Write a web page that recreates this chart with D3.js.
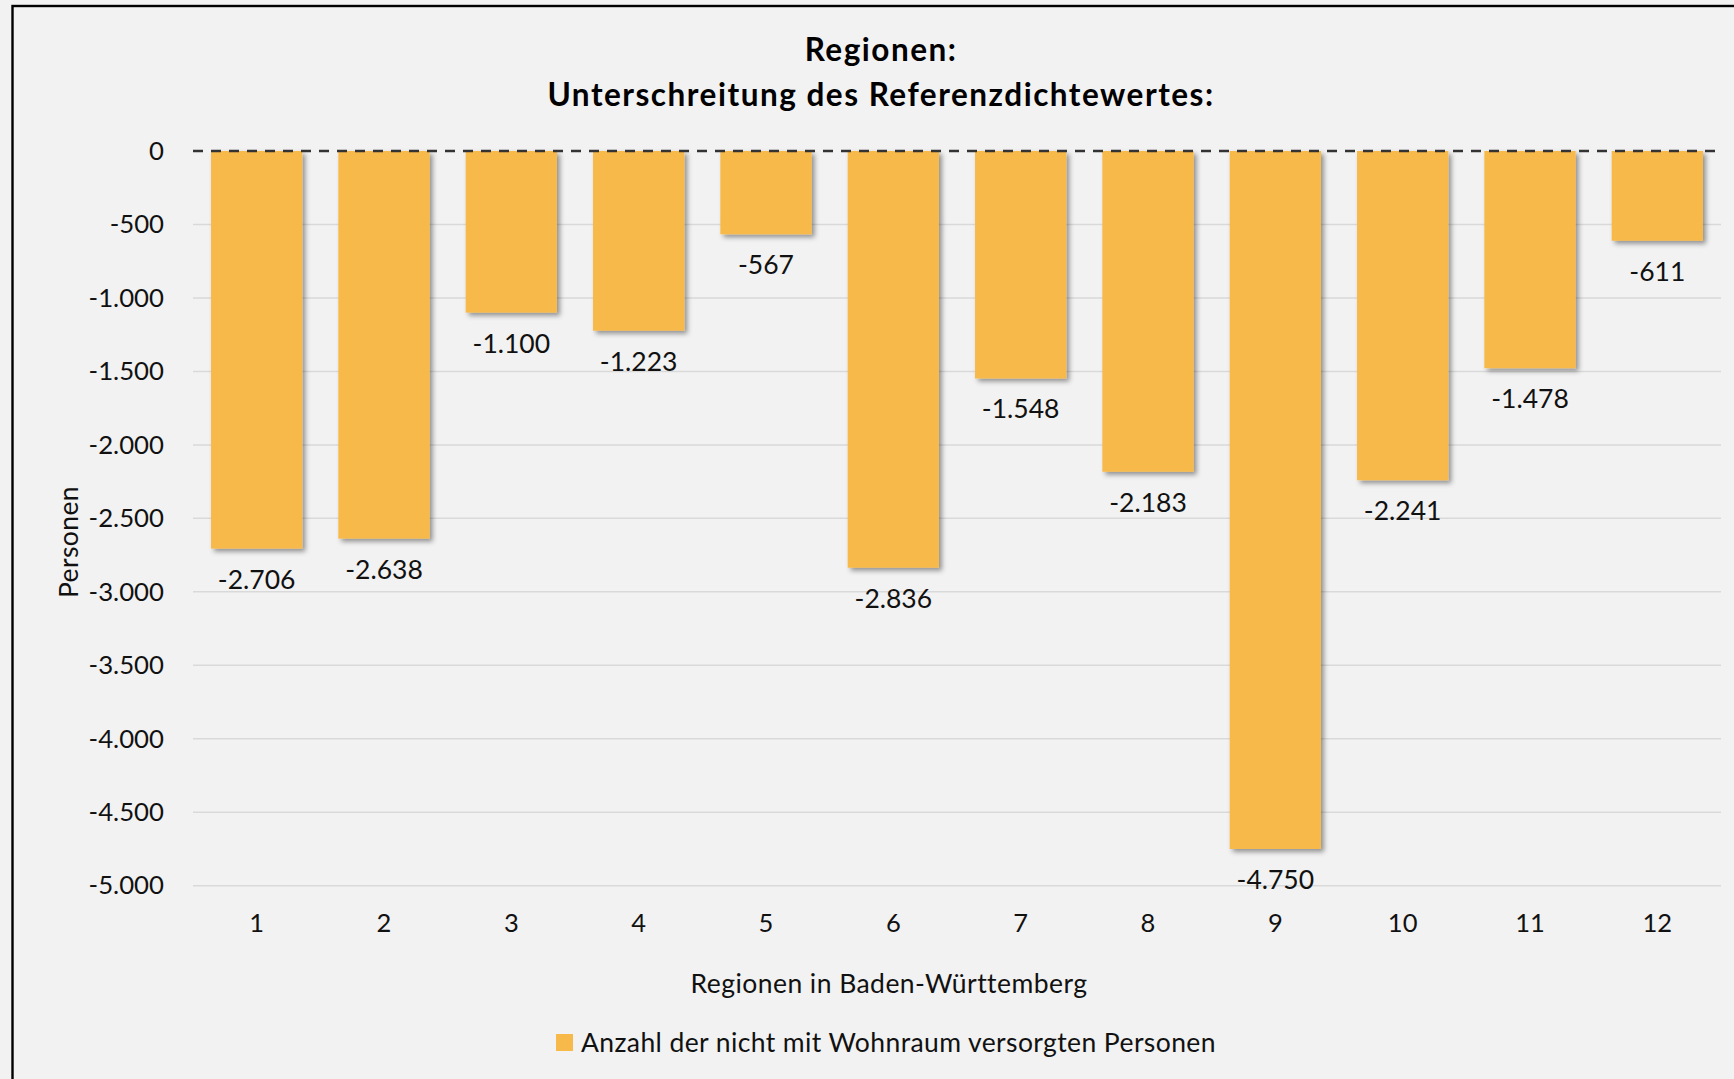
<!DOCTYPE html>
<html lang="de">
<head>
<meta charset="UTF-8">
<script src="https://d3js.org/d3.v7.min.js"></script>
<style>
  html, body { margin: 0; padding: 0; background: #f2f2f2; overflow: hidden; }
  svg { display: block; font-family: Lato, "Open Sans", sans-serif; }
  .grid line { stroke: #d9d9d9; stroke-width: 1.5; }
  .tick-label, .value-label, .cat-label, .axis-title, .legend-text { fill: #111; }
</style>
<title>Regionen</title>
</head>
<body>
<div id="chart"></div>
<script>
// data
const regions = ["1", "2", "3", "4", "5", "6", "7", "8", "9", "10", "11", "12"];
const persons = [-2706, -2638, -1100, -1223, -567, -2836, -1548, -2183, -4750, -2241, -1478, -611];
const yTicks = [0, -500, -1000, -1500, -2000, -2500, -3000, -3500, -4000, -4500, -5000];
const titleLines = ["Regionen:", "Unterschreitung des Referenzdichtewertes:"];
const seriesName = "Anzahl der nicht mit Wohnraum versorgten Personen";

const width = 1734, height = 1079;
const plot = { left: 193, right: 1721, top: 151, bottom: 885.7 };

const de = d3.formatLocale({ decimal: ",", thousands: ".", grouping: [3], currency: ["", " €"], minus: "-" });
const fmt = de.format(",d");

const svg = d3.select("#chart").append("svg")
    .attr("width", width)
    .attr("height", height);

// drop shadow for the bars
const defs = svg.append("defs");
const shadow = defs.append("filter").attr("id", "shadow")
    .attr("x", "-20%").attr("y", "-20%").attr("width", "150%").attr("height", "150%");
shadow.append("feDropShadow")
    .attr("dx", 3).attr("dy", 3).attr("stdDeviation", 2.5)
    .attr("flood-color", "#000").attr("flood-opacity", 0.4);

// frame (runs off the right and bottom edge)
svg.append("rect")
    .attr("x", 12.5).attr("y", 6)
    .attr("width", 1900).attr("height", 1200)
    .attr("fill", "#f2f2f2")
    .attr("stroke", "#000").attr("stroke-width", 2.4);

const x = d3.scaleBand()
    .domain(regions)
    .range([plot.left, plot.right])
    .paddingInner(0.283)
    .paddingOuter(0.1415);

const y = d3.scaleLinear()
    .domain([-5000, 0])
    .range([plot.bottom, plot.top]);

// title
svg.append("g").selectAll("text")
    .data(titleLines)
    .enter().append("text")
    .attr("x", 881)
    .attr("y", (d, i) => 61 + i * 45)
    .attr("text-anchor", "middle")
    .attr("font-size", 31.5)
    .attr("letter-spacing", 1.5)
    .attr("font-weight", "bold")
    .attr("fill", "#000")
    .text(d => d);

// gridlines (not at zero)
svg.append("g").attr("class", "grid")
    .selectAll("line")
    .data(yTicks.filter(d => d !== 0))
    .enter().append("line")
    .attr("x1", plot.left).attr("x2", plot.right)
    .attr("y1", d => y(d)).attr("y2", d => y(d));

// y tick labels
const yAxis = d3.axisLeft(y).tickValues(yTicks).tickFormat(fmt).tickSize(0).tickPadding(0);
const yg = svg.append("g")
    .attr("transform", "translate(164,0)")
    .call(yAxis);
yg.select(".domain").remove();
yg.selectAll("text")
    .attr("class", "tick-label")
    .attr("font-size", 25.75)
    .attr("font-family", "Lato, 'Open Sans', sans-serif")
    .attr("fill", "#111");

// bars
svg.append("g").selectAll("rect")
    .data(persons)
    .enter().append("rect")
    .attr("x", (d, i) => x(regions[i]))
    .attr("y", y(0))
    .attr("width", x.bandwidth())
    .attr("height", d => y(d) - y(0))
    .attr("fill", "#f8b94b")
    .attr("filter", "url(#shadow)");

// zero line, dashed
svg.append("line")
    .attr("x1", plot.left).attr("x2", plot.right)
    .attr("y1", y(0)).attr("y2", y(0))
    .attr("stroke", "#333")
    .attr("stroke-width", 2.5)
    .attr("stroke-dasharray", "10,8");

// value labels under the bars
svg.append("g").selectAll("text")
    .data(persons)
    .enter().append("text")
    .attr("class", "value-label")
    .attr("x", (d, i) => x(regions[i]) + x.bandwidth() / 2)
    .attr("y", d => y(d) + 40)
    .attr("text-anchor", "middle")
    .attr("font-size", 26.5)
    .text(d => fmt(d));

// category labels
svg.append("g").selectAll("text")
    .data(regions)
    .enter().append("text")
    .attr("class", "cat-label")
    .attr("x", d => x(d) + x.bandwidth() / 2)
    .attr("y", 932)
    .attr("text-anchor", "middle")
    .attr("font-size", 25.5)
    .text(d => d);

// axis titles
svg.append("text")
    .attr("class", "axis-title")
    .attr("x", 889).attr("y", 993)
    .attr("text-anchor", "middle")
    .attr("font-size", 26.5)
    .attr("letter-spacing", 0.45)
    .text("Regionen in Baden-Württemberg");

svg.append("text")
    .attr("class", "axis-title")
    .attr("transform", "translate(78,542) rotate(-90)")
    .attr("text-anchor", "middle")
    .attr("font-size", 26.5)
    .attr("letter-spacing", 0.4)
    .text("Personen");

// legend
const legend = svg.append("g").attr("transform", "translate(556,1034)");
legend.append("rect")
    .attr("width", 17).attr("height", 17)
    .attr("fill", "#f8b94b");
legend.append("text")
    .attr("class", "legend-text")
    .attr("x", 25).attr("y", 17.5)
    .attr("font-size", 26.5)
    .attr("letter-spacing", 0.4)
    .text(seriesName);
</script>
</body>
</html>
